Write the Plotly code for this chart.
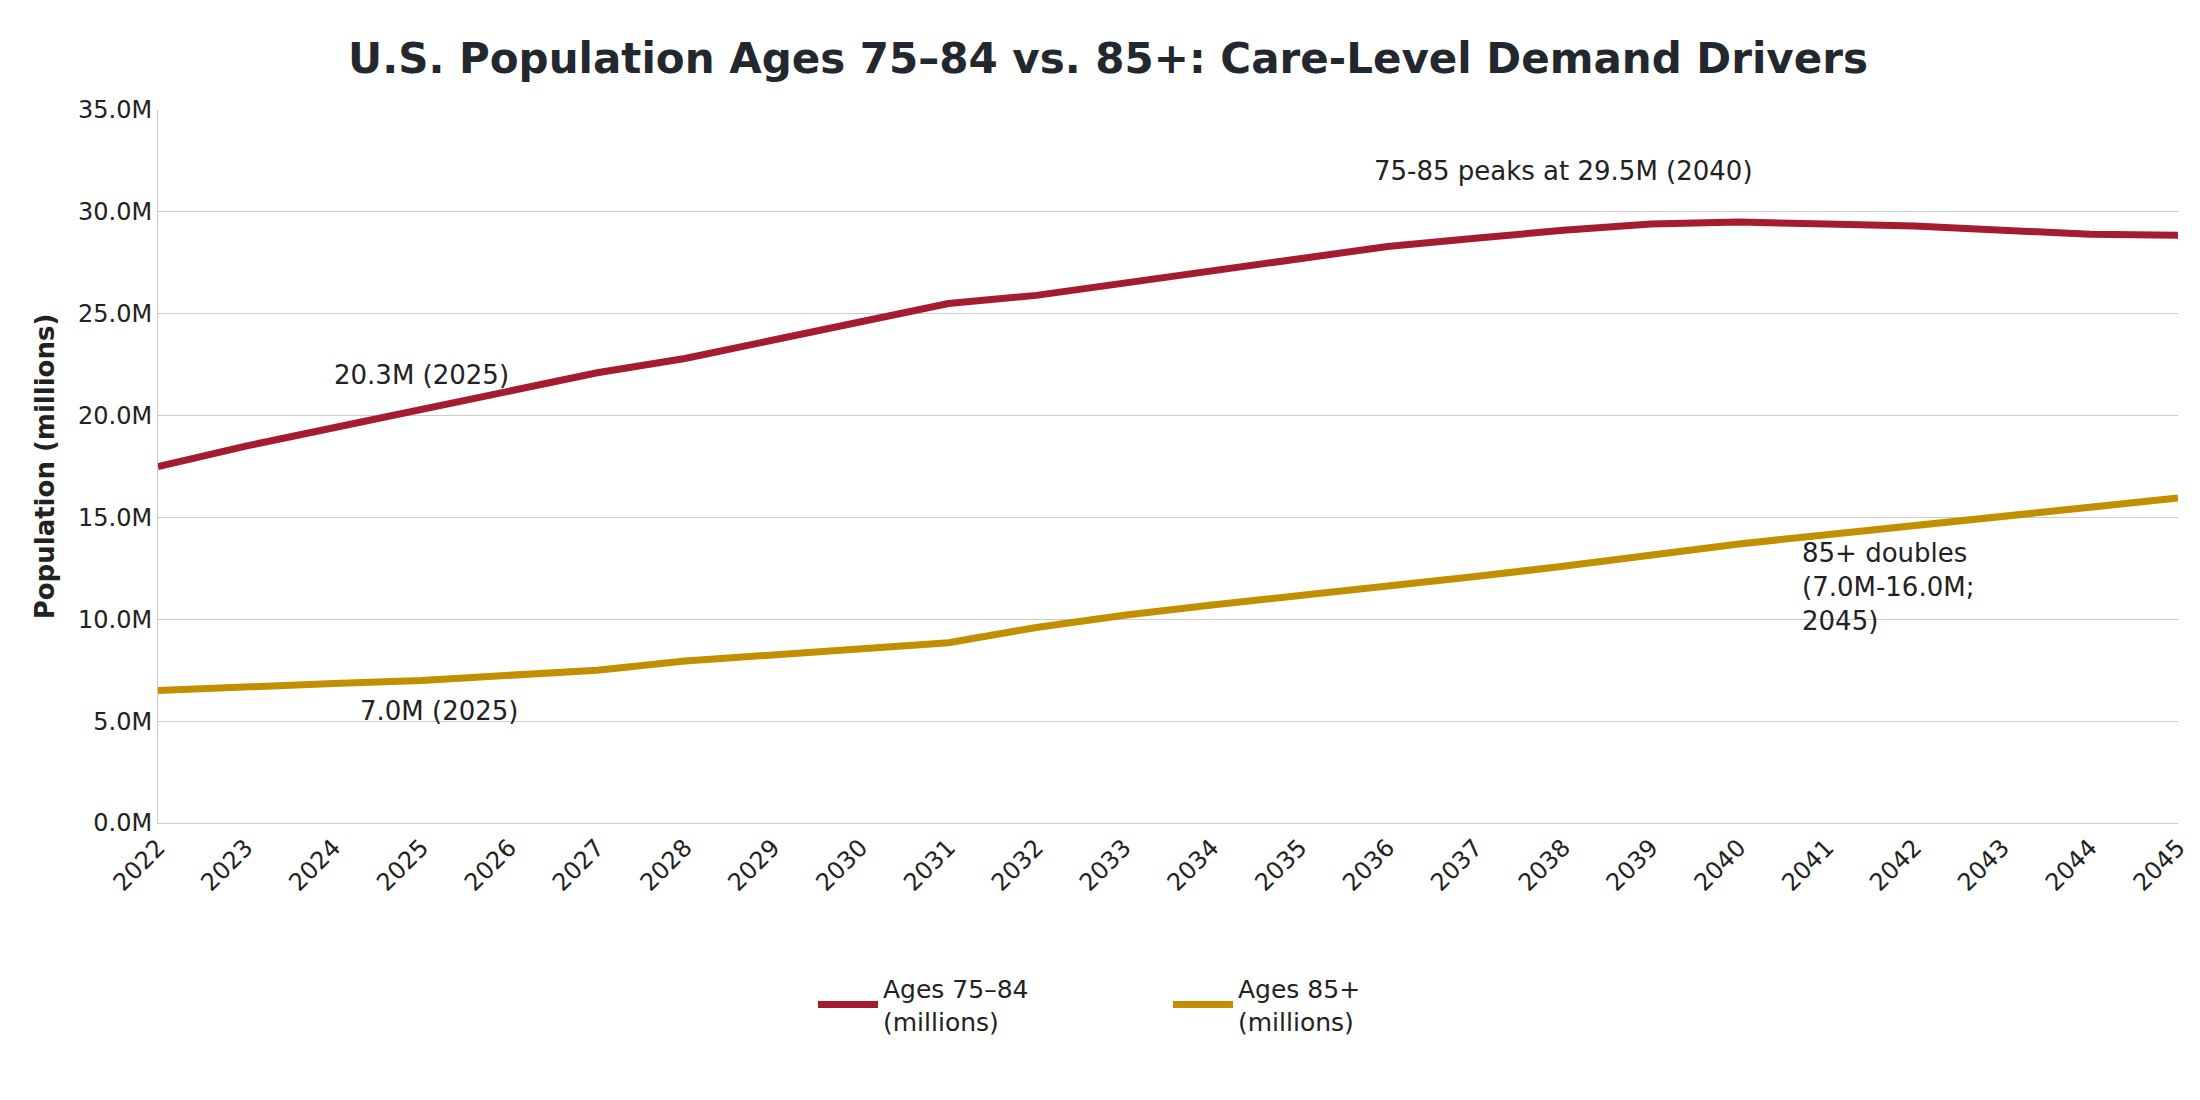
import plotly.graph_objects as go

years = list(range(2022, 2046))
ages_75_84 = [17.5, 18.5, 19.4, 20.3, 21.2, 22.1, 22.8, 23.7, 24.6, 25.5, 25.9, 26.5,
              27.1, 27.7, 28.3, 28.7, 29.1, 29.4, 29.5, 29.4, 29.3, 29.1, 28.9, 28.85]
ages_85_plus = [6.5, 6.7, 6.85, 7.0, 7.25, 7.5, 7.95, 8.25, 8.55, 8.85, 9.6, 10.2,
                10.7, 11.15, 11.6, 12.1, 12.6, 13.15, 13.7, 14.15, 14.6, 15.1, 15.55, 15.95]

fig = go.Figure()
fig.add_trace(go.Scatter(x=years, y=ages_75_84, mode="lines", name="Ages 75–84<br>(millions)",
                         line=dict(color="#A51C30", width=7)))
fig.add_trace(go.Scatter(x=years, y=ages_85_plus, mode="lines", name="Ages 85+<br>(millions)",
                         line=dict(color="#C28F00", width=7)))

af = dict(family="DejaVu Sans", size=26, color="#222")
fig.add_annotation(x=2025, y=22.0, text="20.3M (2025)", showarrow=False, font=af)
fig.add_annotation(x=2025.2, y=5.5, text="7.0M (2025)", showarrow=False, font=af)
fig.add_annotation(x=2038, y=32.0, text="75-85 peaks at 29.5M (2040)", showarrow=False, font=af)
fig.add_annotation(x=2040.7, y=11.6, text="85+ doubles<br>(7.0M-16.0M;<br>2045)", showarrow=False,
                   xanchor="left", align="left", font=af)

fig.update_layout(
    width=2200, height=1100,
    paper_bgcolor="white", plot_bgcolor="white",
    font=dict(family="DejaVu Sans", size=24, color="#222"),
    title=dict(text="<b>U.S. Population Ages 75–84 vs. 85+: Care-Level Demand Drivers</b>",
               x=0.5, xanchor="center", y=0.968, font=dict(size=42, color="#23272e")),
    margin=dict(l=150, r=30, t=102, b=285),
    xaxis=dict(tickmode="array", tickvals=years, ticktext=[str(y) for y in years],
               tickangle=-45, range=[2022, 2045], showgrid=False,
               showline=True, linecolor="#ccc", tickfont=dict(size=24)),
    yaxis=dict(range=[0, 35], tickvals=[0, 5, 10, 15, 20, 25, 30, 35],
               ticktext=["0.0M", "5.0M", "10.0M", "15.0M", "20.0M", "25.0M", "30.0M", "35.0M"],
               gridcolor="#cccccc", showline=True, linecolor="#ccc", zeroline=False,
               title=dict(text="<b>Population (millions)</b>", font=dict(size=26)),
               tickfont=dict(size=24)),
    legend=dict(orientation="h", x=0.5, xanchor="center", y=-0.2, yanchor="top",
                font=dict(size=25), entrywidth=280, itemwidth=60),
)
fig.write_html("out.html")
